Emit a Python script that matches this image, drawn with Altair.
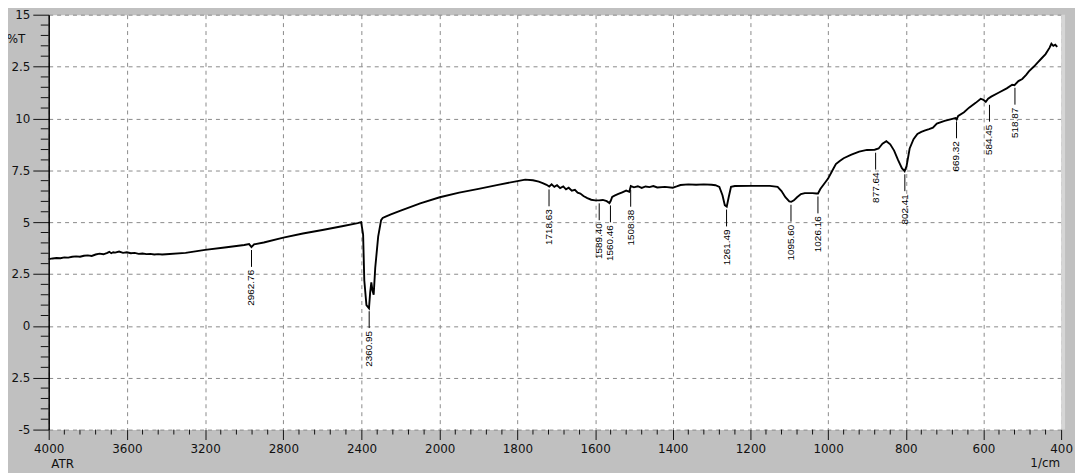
import altair as alt
import pandas as pd

# ---- spectrum (wavenumber 1/cm, %T) ----
wavenumber = [
    4000, 3980, 3960, 3940, 3920, 3900, 3880, 3860, 3840, 3820, 3800, 3780, 3760, 3740,
    3720, 3700, 3690, 3680, 3670, 3660, 3640, 3620, 3600, 3580, 3560, 3540, 3520, 3500,
    3480, 3460, 3440, 3420, 3400, 3300, 3200, 3100, 3000, 2975, 2963, 2950, 2900, 2800,
    2700, 2600, 2500, 2420, 2402, 2392, 2386, 2375, 2362, 2356, 2350, 2344, 2338, 2330,
    2315, 2300, 2292, 2280, 2250, 2200, 2100, 2000, 1950, 1900, 1850, 1800, 1780, 1760,
    1745, 1735, 1725, 1718, 1712, 1705, 1698, 1690, 1682, 1675, 1668, 1660, 1652, 1645,
    1638, 1630, 1620, 1610, 1600, 1590, 1580, 1570, 1563, 1560, 1556, 1550, 1540, 1530,
    1520, 1512, 1508, 1500, 1490, 1480, 1470, 1460, 1450, 1440, 1420, 1400, 1390, 1380,
    1360, 1340, 1320, 1300, 1290, 1280, 1272, 1266, 1261, 1256, 1250, 1240, 1200, 1150,
    1130, 1120, 1110, 1100, 1095, 1088, 1080, 1070, 1060, 1040, 1030, 1026, 1020, 1010,
    1000, 990, 980, 970, 960, 940, 920, 900, 880, 870, 860, 850, 840, 830, 820, 810,
    803, 798, 790, 780, 770, 760, 750, 740, 730, 720, 700, 680, 672, 669, 665, 650,
    637, 620, 607, 600, 594, 588, 580, 560, 540, 526, 520, 510, 500, 490, 483, 470,
    460, 450, 440, 430, 425, 420, 415, 410,
]
transmittance = [
    3.22, 3.25, 3.27, 3.26, 3.30, 3.29, 3.33, 3.35, 3.33, 3.38, 3.40, 3.37, 3.44, 3.48,
    3.45, 3.52, 3.57, 3.50, 3.55, 3.53, 3.58, 3.52, 3.55, 3.50, 3.52, 3.47, 3.49, 3.46,
    3.47, 3.44, 3.46, 3.44, 3.45, 3.52, 3.66, 3.78, 3.90, 3.94, 3.80, 3.93, 4.02, 4.25,
    4.45, 4.62, 4.80, 4.95, 5.00, 4.40, 2.20, 1.00, 0.85, 1.60, 2.10, 1.70, 1.50, 2.80,
    4.30, 5.10, 5.20, 5.25, 5.37, 5.55, 5.90, 6.20, 6.42, 6.60, 6.80, 6.98, 7.05, 7.02,
    6.95, 6.88, 6.80, 6.72, 6.82, 6.70, 6.78, 6.64, 6.72, 6.58, 6.66, 6.52, 6.56, 6.42,
    6.38, 6.26, 6.16, 6.08, 6.05, 6.05, 6.07, 6.01, 5.92, 6.02, 6.22, 6.28, 6.36, 6.44,
    6.52, 6.46, 6.74, 6.68, 6.73, 6.65, 6.72, 6.69, 6.74, 6.67, 6.70, 6.66, 6.72, 6.79,
    6.82, 6.80, 6.82, 6.80, 6.78, 6.70, 6.30, 5.82, 5.75, 6.20, 6.70, 6.74, 6.75, 6.75,
    6.70, 6.50, 6.20, 6.00, 5.98, 6.05, 6.20, 6.35, 6.40, 6.40, 6.38, 6.38, 6.60, 6.85,
    7.10, 7.45, 7.80, 7.95, 8.08, 8.25, 8.40, 8.48, 8.49, 8.55, 8.78, 8.90, 8.75, 8.45,
    8.00, 7.60, 7.45, 7.70, 8.55, 9.00, 9.25, 9.35, 9.42, 9.48, 9.55, 9.75, 9.88, 9.98,
    10.02, 9.95, 10.12, 10.30, 10.52, 10.75, 10.95, 10.90, 10.80, 10.95, 11.05, 11.25,
    11.45, 11.62, 11.60, 11.80, 11.90, 12.10, 12.27, 12.50, 12.70, 12.90, 13.10, 13.40,
    13.60, 13.50, 13.55, 13.45,
]

# ---- peak labels ----
peak_wn = [2962.76, 2360.95, 1718.63, 1589.40, 1560.46, 1508.38, 1261.49,
           1095.60, 1026.16, 877.64, 802.41, 669.32, 584.45, 518.87]
peak_t = [3.80, 0.85, 6.72, 6.05, 5.95, 6.70, 5.75, 5.98, 6.38, 8.49, 7.45, 10.00, 10.80, 11.62]
peak_text = ["2962.76", "2360.95", "1718.63", "1589.40", "1560.46", "1508.38", "1261.49",
             "1095.60", "1026.16", "877.64", "802.41", "669.32", "584.45", "518.87"]

# ---- axis ticks ----
x_major = [4000, 3600, 3200, 2800, 2400, 2000, 1800, 1600, 1400, 1200, 1000, 800, 600, 400]
x_minor = ([v for v in range(4000, 2000, -80) if v % 400 != 0]
           + [v for v in range(2000, 400, -40) if v % 200 != 0])
y_major = [-5, -2.5, 0, 2.5, 5, 7.5, 10, 12.5, 15]
y_minor = [v / 2 for v in range(-10, 31) if (v / 2) not in y_major]

spec = pd.DataFrame({"wn": wavenumber, "T": transmittance})
peaks = pd.DataFrame({"wn": peak_wn, "T": peak_t, "label": peak_text})
xminor_df = pd.DataFrame({"wn": x_minor})
yminor_df = pd.DataFrame({"T": y_minor})

W, H = 1020, 418
xscale = alt.Scale(domain=[4000, 2000, 400], range=[0, 394, W], nice=False, zero=False)
yscale = alt.Scale(domain=[-5, 15], nice=False, zero=False)

FONT = "DejaVu Sans"

xaxis = alt.Axis(
    values=x_major, title=None, grid=True, gridDash=[4, 4], gridColor="#8a8a8a",
    gridWidth=1, domain=False, tickSize=10, tickColor="#111111", tickWidth=1,
    labelFont=FONT, labelFontSize=12, labelColor="#111111", labelPadding=4,
    labelFlush=False, labelOverlap=False, format="d",
)
yaxis = alt.Axis(
    values=y_major, title=None, grid=True, gridDash=[4, 4], gridColor="#8a8a8a",
    gridWidth=1, domain=True, domainColor="#000000", domainWidth=1.5,
    tickSize=16, tickColor="#111111", tickWidth=1,
    labelFont=FONT, labelFontSize=12, labelColor="#111111", labelPadding=3,
    labelFlush=False, labelOverlap=False,
    labelExpr=("(datum.value == 12.5 || datum.value == -2.5) ? '2.5' : "
               "(datum.value == -5 ? '-5' : format(datum.value, '~g'))"),
)

line = alt.Chart(spec).mark_line(color="#000000", strokeWidth=1.9, interpolate="linear").encode(
    x=alt.X("wn:Q", scale=xscale, axis=xaxis, sort=None),
    y=alt.Y("T:Q", scale=yscale, axis=yaxis),
    order=alt.Order("wn:Q", sort="descending"),
)

peak_rules = alt.Chart(peaks).mark_rule(color="#000000", strokeWidth=1, yOffset=3, y2Offset=20).encode(
    x="wn:Q", y="T:Q", y2="T"
)
peak_labels = alt.Chart(peaks).mark_text(
    angle=270, align="right", baseline="middle", yOffset=23,
    font="Liberation Sans", fontSize=10, color="#000000",
).encode(x="wn:Q", y="T:Q", text="label:N")

x_minor_ticks = alt.Chart(xminor_df).mark_rule(color="#111111", strokeWidth=1).encode(
    x="wn:Q", y=alt.value(H), y2=alt.value(H + 5)
)
y_minor_ticks = alt.Chart(yminor_df).mark_rule(color="#111111", strokeWidth=1).encode(
    y="T:Q", x=alt.value(-8), x2=alt.value(0)
)

strip = alt.Chart(pd.DataFrame({"a": [0]})).mark_rect(color="#d6d6d6").encode(
    x=alt.value(W), x2=alt.value(W + 4), y=alt.value(0), y2=alt.value(H)
)

def label(txt, x, y, align="center"):
    return alt.Chart(pd.DataFrame({"t": [txt]})).mark_text(
        font=FONT, fontSize=12, color="#111111", align=align, baseline="middle"
    ).encode(x=alt.value(x), y=alt.value(y), text="t:N")

chart = alt.layer(
    strip, line, peak_rules, peak_labels, x_minor_ticks, y_minor_ticks,
    label("%T", -33, 25), label("ATR", 14, 453), label("1/cm", 1004, 452),
).properties(
    width=W, height=H,
    autosize=alt.AutoSizeParams(type="none"),
    padding={"left": 41, "top": 5, "right": 14, "bottom": 42},
    background="#c0c0c0",
).configure_view(fill="#ffffff", stroke="transparent")

chart.save("out.html", embed_options={"renderer": "svg", "actions": False})
